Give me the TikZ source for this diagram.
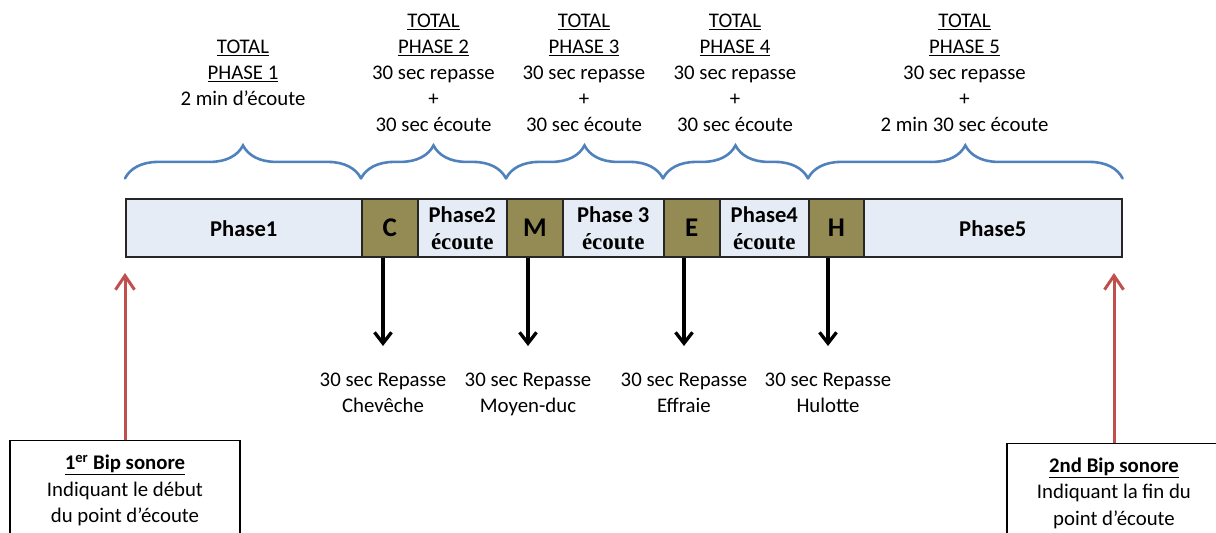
\documentclass[tikz,border=0pt]{standalone}
\usepackage{fontspec}
\setmainfont{Carlito}
\newfontfamily\cellserif{Liberation Serif}
\usetikzlibrary{arrows.meta,calc,decorations.pathreplacing}
\definecolor{barfill}{RGB}{230,236,245}
\definecolor{owlfill}{RGB}{148,138,84}
\definecolor{braceblue}{RGB}{79,129,189}
\definecolor{bipred}{RGB}{192,80,77}

\begin{document}
\begin{tikzpicture}
[   x=1pt,y=-1pt,
    cell/.style={draw=black!85,line width=1.6pt,fill=barfill,minimum height=58pt,inner sep=0pt,above right,align=center,font=\fontsize{22.6}{27}\selectfont\bfseries},
    owl/.style={cell,fill=owlfill,font=\fontsize{27}{30}\selectfont\bfseries},
    curly/.style={draw=braceblue,line width=2.6pt,line cap=round,decorate,decoration={brace,amplitude=33pt}},
    total/.style={align=center,inner sep=0pt,anchor=north,font=\fontsize{20.8}{26}\selectfont},
    bipbox/.style={draw,line width=1.3pt,anchor=north,align=center,inner xsep=0pt,inner ysep=10.5pt,font=\fontsize{20.8}{26.5}\selectfont},
    owlarrow/.style={line width=3.3pt,-{Straight Barb[length=11pt,width=17pt]}},
    bip/.style={draw=bipred,line width=3pt,-{Straight Barb[length=14pt,width=19pt]}}
]
    \useasboundingbox (0,0) rectangle (1216,533);
    \clip (0,0) rectangle (1216,533);
    \node[cell,minimum width=236pt] (P1) at (125,258) {Phase1};
    \node[owl,minimum width=56pt] (C) at (361,258) {C};
    \node[cell,minimum width=89pt] (P2) at (417,258) {Phase2\\{\cellserif\fontsize{23}{27}\selectfont écoute}};
    \node[owl,minimum width=56pt] (M) at (506,258) {M};
    \node[cell,minimum width=101pt] (P3) at (562,258) {Phase 3\\{\cellserif\fontsize{23}{27}\selectfont écoute}};
    \node[owl,minimum width=56pt] (E) at (663,258) {E};
    \node[cell,minimum width=89pt] (P4) at (719,258) {Phase4\\{\cellserif\fontsize{23}{27}\selectfont écoute}};
    \node[owl,minimum width=55pt] (H) at (808,258) {H};
    \node[cell,minimum width=258pt] (P5) at (863,258) {Phase5};
    \draw[curly] ([yshift=20pt]P1.north west) -- ([yshift=20pt]C.north west);
    \draw[curly] ([yshift=20pt]C.north west) -- ([yshift=20pt]M.north west);
    \draw[curly] ([yshift=20pt]M.north west) -- ([yshift=20pt]E.north west);
    \draw[curly] ([yshift=20pt]E.north west) -- ([yshift=20pt]H.north west);
    \draw[curly] ([yshift=20pt]H.north west) -- ([yshift=20pt]P5.north east);
    \node[total] (T1) at (243,35.3) {\strut\underline{TOTAL}\\\underline{PHASE 1}\\2 min d’écoute};
    \node[total] (T2) at (433.5,9.3) {\strut\underline{TOTAL}\\\underline{PHASE 2}\\30 sec repasse\\+\\30 sec écoute};
    \node[total] (T3) at (584,9.3) {\strut\underline{TOTAL}\\\underline{PHASE 3}\\30 sec repasse\\+\\30 sec écoute};
    \node[total] (T4) at (735,9.3) {\strut\underline{TOTAL}\\\underline{PHASE 4}\\30 sec repasse\\+\\30 sec écoute};
    \node[total] (T5) at (964.5,9.3) {\strut\underline{TOTAL}\\\underline{PHASE 5}\\30 sec repasse\\+\\2 min 30 sec écoute};
    \node[total] (LC) at (383,368.5) {\strut 30 sec Repasse\\Chevêche};
    \node[total] (LM) at (528,368.5) {\strut 30 sec Repasse\\Moyen-duc};
    \node[total] (LE) at (684,368.5) {\strut 30 sec Repasse\\Effraie};
    \node[total] (LH) at (828,368.5) {\strut 30 sec Repasse\\Hulotte};
    \draw[owlarrow] (LC |- C.south) -- ([yshift=22.5pt]LC.north);
    \draw[owlarrow] (LM |- M.south) -- ([yshift=22.5pt]LM.north);
    \draw[owlarrow] (LE |- E.south) -- ([yshift=22.5pt]LE.north);
    \draw[owlarrow] (LH |- H.south) -- ([yshift=22.5pt]LH.north);
    \node[bipbox,minimum width=230pt] (B1) at (125,440) {\strut\textbf{\underline{1\textsuperscript{er} Bip sonore}}\\Indiquant le début\\du point d’écoute};
    \node[bipbox,minimum width=214pt] (B2) at (1114,442.7) {\strut\textbf{\underline{2nd Bip sonore}}\\Indiquant la fin du\\point d’écoute};
    \draw[bip] (B1.north) -- ($(B1.north |- P1.south)+(0,15)$);
    \draw[bip] (B2.north) -- ($(B2.north |- P5.south)+(0,15)$);
\end{tikzpicture}
\end{document}
